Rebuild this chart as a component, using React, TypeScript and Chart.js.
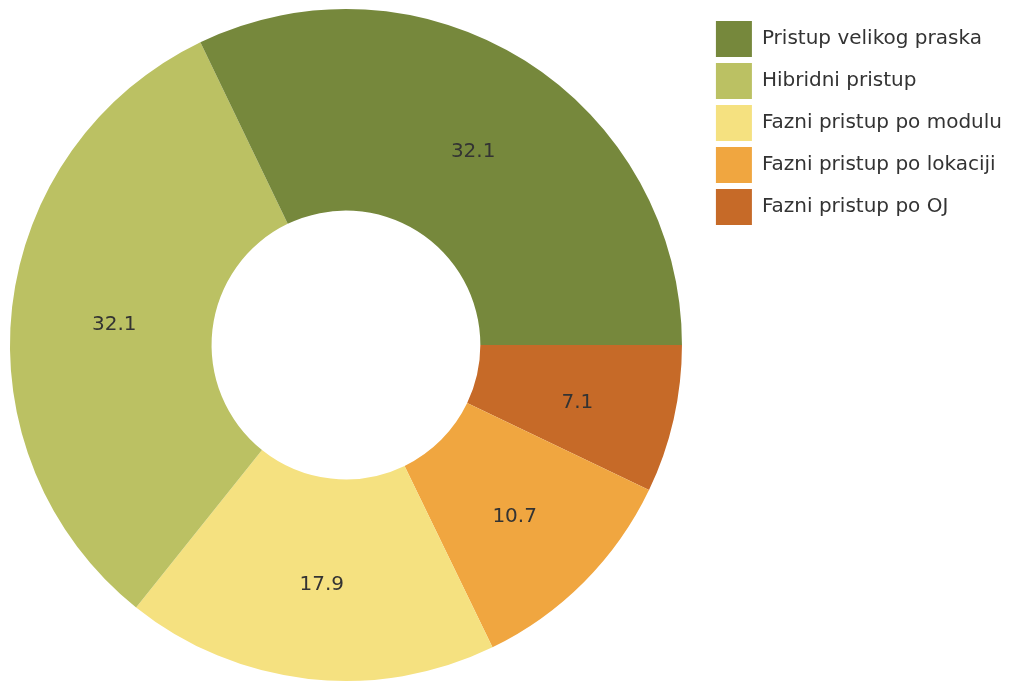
import React, { useEffect, useRef } from "react";
import { Chart, registerables } from "chart.js";

Chart.register(...registerables);

// Data in clockwise drawing order (starting at 3 o'clock); legend shown reversed
const categories = [
  "Fazni pristup po OJ",
  "Fazni pristup po lokaciji",
  "Fazni pristup po modulu",
  "Hibridni pristup",
  "Pristup velikog praska",
];
const values = [7.1, 10.7, 17.9, 32.1, 32.1];
const colors = ["#C66A28", "#F0A640", "#F5E180", "#BBC163", "#76883C"];

const FONT_FAMILY = "'DejaVu Sans', Verdana, sans-serif";
const FONT_SIZE = 20;
const BOX_W = 36;
const BOX_H = 36;
const LEG_PAD = 6;

const labelPlugin = {
  id: "sliceLabels",
  afterDatasetsDraw(chart: any) {
    const ctx = chart.ctx;
    const meta = chart.getDatasetMeta(0);
    ctx.save();
    ctx.font = `${FONT_SIZE}px ${FONT_FAMILY}`;
    ctx.fillStyle = "#333333";
    ctx.textAlign = "center";
    ctx.textBaseline = "middle";
    meta.data.forEach((arc: any, i: number) => {
      const p = arc.tooltipPosition();
      ctx.fillText(values[i].toFixed(1), p.x + 2, p.y + 6);
    });
    ctx.restore();
  },
};

export default function App() {
  const ref = useRef<HTMLCanvasElement>(null);
  useEffect(() => {
    const canvas = ref.current!;
    const m = document.createElement("canvas").getContext("2d")!;
    m.font = `${FONT_SIZE}px ${FONT_FAMILY}`;
    const textW = Math.max(...categories.map((c) => m.measureText(c).width));
    const legendW = LEG_PAD + BOX_W + FONT_SIZE / 2 + textW + 10;
    const legendLeftCanvas = 728;
    canvas.width = Math.round(legendLeftCanvas + legendW);
    canvas.height = 682;
    canvas.style.width = canvas.width + "px";
    canvas.style.height = "682px";

    const chart = new Chart(canvas, {
      type: "doughnut",
      data: {
        labels: categories,
        datasets: [
          {
            data: values,
            backgroundColor: colors,
            borderWidth: 0,
          },
        ],
      },
      options: {
        responsive: false,
        animation: false,
        cutout: "40%",
        rotation: 90,
        layout: { padding: { top: 9, bottom: 1, left: 0, right: 0 } },
        plugins: {
          tooltip: { enabled: false },
          legend: {
            position: "right",
            align: "start",
            reverse: true,
            title: {
              display: true,
              text: "",
              font: { size: 1, lineHeight: 1 },
              padding: { top: 5, bottom: 0 },
            },
            labels: {
              boxWidth: BOX_W,
              boxHeight: BOX_H,
              padding: LEG_PAD,
              color: "#333333",
              font: { size: FONT_SIZE, family: FONT_FAMILY },
            },
          },
        },
      },
      plugins: [labelPlugin],
    });
    return () => chart.destroy();
  }, []);

  return (
    <div
      style={{
        position: "fixed",
        left: 0,
        top: 0,
        width: 1011,
        height: 682,
        overflow: "hidden",
        background: "#ffffff",
      }}
    >
      <canvas
        ref={ref}
        style={{ position: "absolute", left: -18, top: 0, display: "block" }}
      />
    </div>
  );
}
